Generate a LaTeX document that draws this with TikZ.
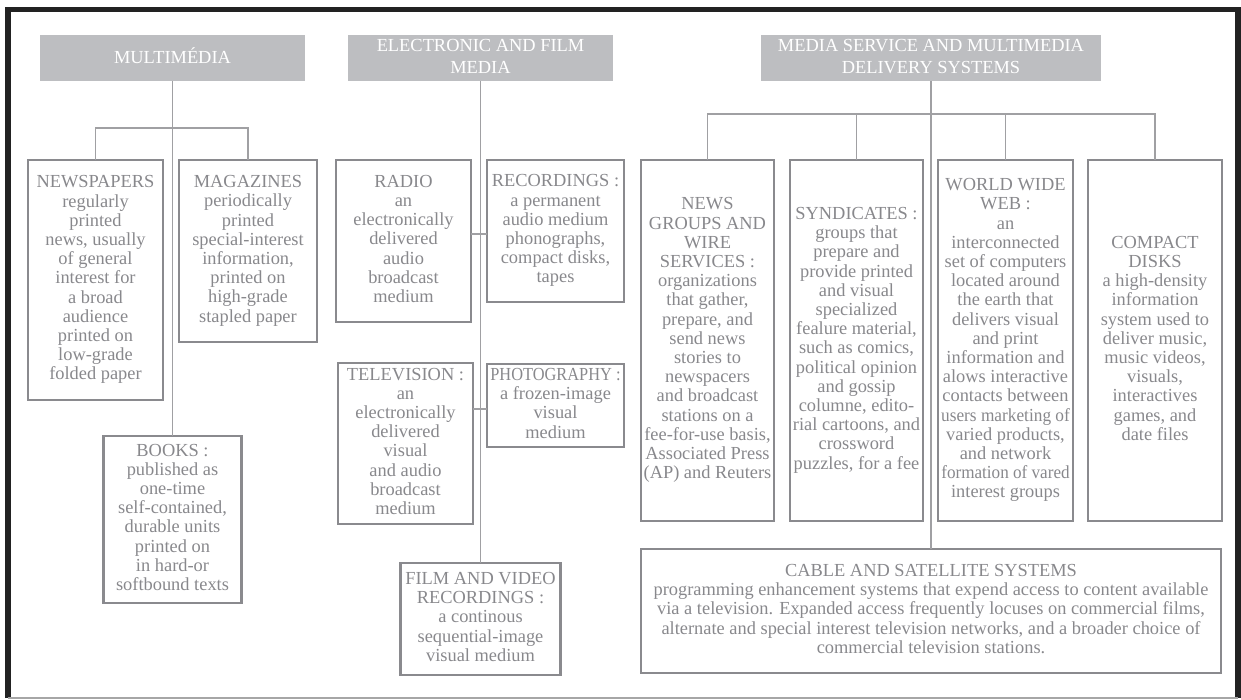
\documentclass[tikz,border=0pt]{standalone}
\usepackage{fontspec}
\usepackage{graphicx}
\setmainfont{Liberation Serif}
\definecolor{hdr}{HTML}{BDBEC1}
\definecolor{txt}{HTML}{88888C}
\definecolor{bord}{HTML}{8A8A8E}
\definecolor{conn}{HTML}{A0A0A3}
\definecolor{frame}{HTML}{222222}
\newcommand{\bxt}[3][1]{\makebox[#2]{\renewcommand{\arraystretch}{#1}\begin{tabular}{@{}c@{}}#3\end{tabular}}}
\newcommand{\sqz}[2]{\scalebox{#1}[1]{#2}}
\begin{document}
\begin{tikzpicture}[x=1pt,y=-1pt,
  every node/.style={inner sep=0pt, outer sep=0pt, font=\fontsize{18.4}{19.2}\selectfont},
  hdrbox/.style={fill=hdr, text=white, minimum height=46pt},
  itembox/.style={draw=bord, line width=2.4pt, text=txt},
  conline/.style={draw=conn, line width=1.2pt}]
\useasboundingbox (0,0) rectangle (1241,700);
% frame
\draw[frame, line width=5.5pt] (8,698) -- (8,9.5) -- (1238,9.5) -- (1238,698);
\draw[gray!70, line width=1.5pt] (8,698) -- (1238,698);

% headers
\node[hdrbox, minimum width=265pt] (h1) at (172.5,58) {\bxt{265pt}{MULTIMÉDIA}};
\node[hdrbox, minimum width=265pt] (h2) at (480.5,58) {\bxt[1.13]{265pt}{ELECTRONIC AND FILM\\MEDIA}};
\node[hdrbox, minimum width=340pt] (h3) at (931,58) {\bxt[1.13]{340pt}{MEDIA SERVICE AND MULTIMEDIA\\DELIVERY SYSTEMS}};

% left column
\node[itembox, minimum width=135pt, minimum height=240pt] (newsp) at (95.5,280)
  {\bxt{135pt}{NEWSPAPERS\\regularly\\printed\\news, usually\\of general\\interest for\\a broad\\audience\\printed on\\low-grade\\folded paper}};
\node[itembox, minimum width=138pt, minimum height=182pt] (mag) at (248,251)
  {\bxt{138pt}{MAGAZINES\\periodically\\printed\\special-interest\\information,\\printed on\\high-grade\\stapled paper}};
\node[itembox, minimum width=138pt, minimum height=167pt] (books) at (172.5,519.5)
  {\bxt{138pt}{BOOKS :\\published as\\one-time\\self-contained,\\durable units\\printed on\\in hard-or\\softbound texts}};

% middle column
\node[itembox, minimum width=135pt, minimum height=162pt] (radio) at (403.5,241)
  {\bxt{135pt}{RADIO\\an\\electronically\\delivered\\audio\\broadcast\\medium}};
\node[itembox, minimum width=137pt, minimum height=142pt] (rec) at (555.5,231)
  {\bxt{137pt}{RECORDINGS :\\a permanent\\audio medium\\phonographs,\\compact disks,\\tapes}};
\node[itembox, minimum width=135pt, minimum height=161pt] (tv) at (405.5,443.5)
  {\bxt{135pt}{TELEVISION :\\an\\electronically\\delivered\\visual\\and audio\\broadcast\\medium}};
\node[itembox, minimum width=137pt, minimum height=83pt] (photo) at (555.5,405.5)
  {\bxt{137pt}{\sqz{0.89}{PHOTOGRAPHY :}\\a frozen-image\\visual\\medium}};
\node[itembox, minimum width=160pt, minimum height=112pt] (film) at (480.5,619)
  {\bxt{160pt}{FILM AND VIDEO\\RECORDINGS :\\a continous\\sequential-image\\visual medium}};

% right column
\node[itembox, minimum width=133pt, minimum height=361pt] (news) at (707.5,340.5)
  {\bxt{133pt}{NEWS\\GROUPS AND\\WIRE\\SERVICES :\\organizations\\that gather,\\prepare, and\\send news\\stories to\\newspacers\\and broadcast\\stations on a\\fee-for-use basis,\\Associated Press\\(AP) and Reuters}};
\node[itembox, minimum width=133pt, minimum height=361pt] (synd) at (856.5,340.5)
  {\raisebox{8pt}{\bxt{133pt}{SYNDICATES :\\groups that\\prepare and\\provide printed\\and visual\\specialized\\fealure material,\\such as comics,\\political opinion\\and gossip\\columne, edito-\\rial cartoons, and\\crossword\\puzzles, for a fee}}};
\node[itembox, minimum width=135pt, minimum height=361pt] (www) at (1005.5,340.5)
  {\bxt{135pt}{WORLD WIDE\\WEB :\\an\\interconnected\\set of computers\\located around\\the earth that\\delivers visual\\and print\\information and\\alows interactive\\contacts between\\\sqz{0.94}{users marketing of}\\varied products,\\and network\\\sqz{0.93}{formation of vared}\\interest groups}};
\node[itembox, minimum width=134pt, minimum height=361pt] (cd) at (1155,340.5)
  {\bxt{134pt}{COMPACT\\DISKS\\a high-density\\information\\system used to\\deliver music,\\music videos,\\visuals,\\interactives\\games, and\\date files}};
\node[itembox, minimum width=580pt, minimum height=124pt] (cable) at (931,611)
  {\bxt{580pt}{CABLE AND SATELLITE SYSTEMS\\programming enhancement systems that expend access to content available\\via a television. Expanded access frequently locuses on commercial films,\\alternate and special interest television networks, and a broader choice of\\commercial television stations.}};

% connectors
\coordinate (lbar) at (0,128);
\coordinate (rbar) at (0,114);
\coordinate (rr) at (0,234);
\coordinate (tp) at (0,409);
\draw[conline] (h1.south) -- (books.north);
\draw[conline] (newsp.north) -- (newsp.north |- lbar) -- (mag.north |- lbar) -- (mag.north);
\draw[conline] (h2.south) -- (film.north);
\draw[conline] (radio.east |- rr) -- (rec.west |- rr);
\draw[conline] (tv.east |- tp) -- (photo.west |- tp);
\draw[conline] (h3.south) -- (cable.north);
\draw[conline] (news.north) -- (news.north |- rbar) -- (cd.north |- rbar) -- (cd.north);
\draw[conline] (synd.north) -- (synd.north |- rbar);
\draw[conline] (www.north) -- (www.north |- rbar);
\end{tikzpicture}
\end{document}
